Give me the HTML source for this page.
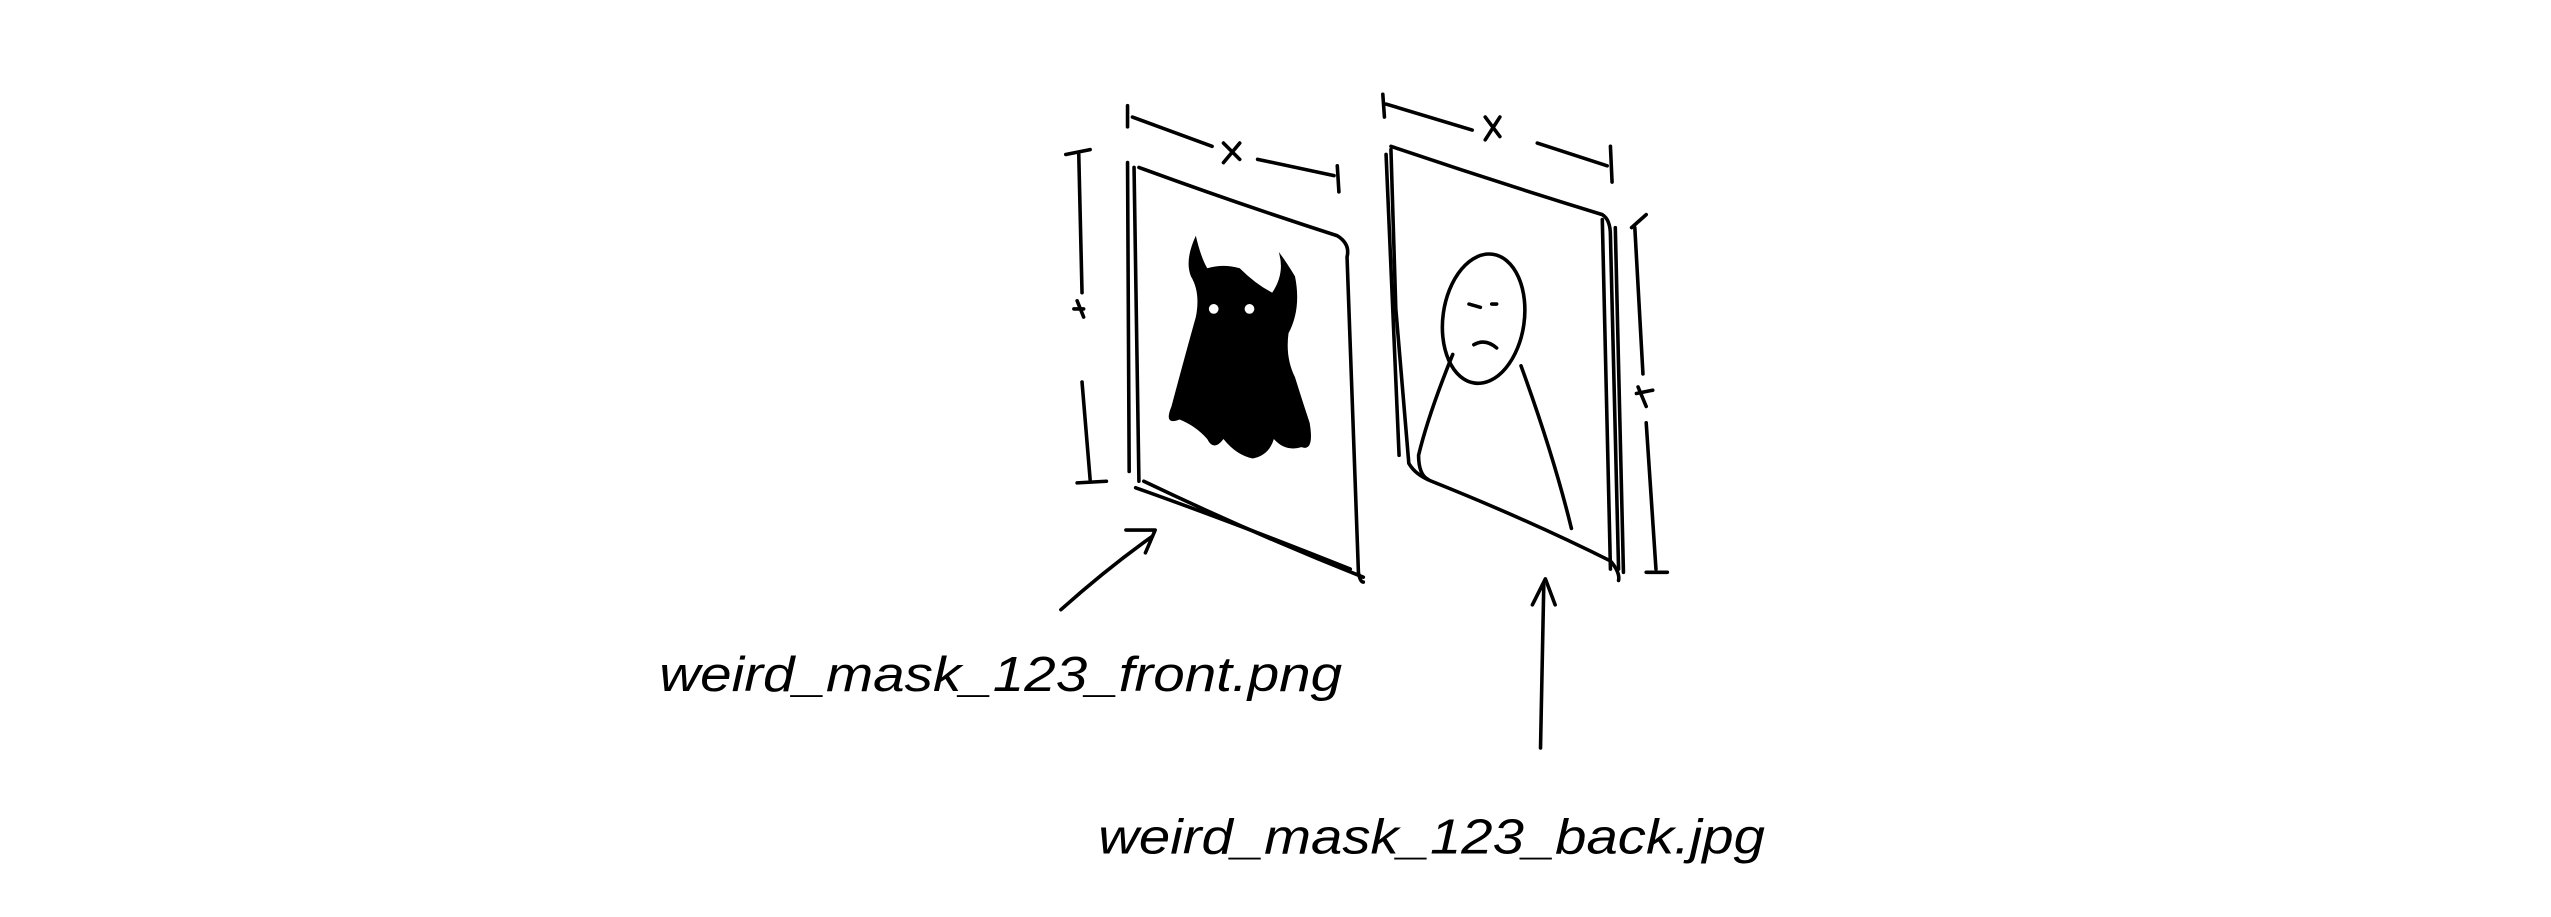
<!DOCTYPE html>
<html><head><meta charset="utf-8"><style>
html,body{margin:0;padding:0;background:#fff;width:2551px;height:917px;overflow:hidden}
svg{display:block}
</style></head><body>
<svg width="2551" height="917" viewBox="0 0 1568 564" xmlns="http://www.w3.org/2000/svg">
<g fill="none" stroke="#000" stroke-width="2.2" stroke-linecap="round" stroke-linejoin="round">
<g>
<path d="M697 103 L700 296"/><path d="M693 100 L694 290"/>
<path d="M700 103 Q760 125 822 145 Q830 150 828 158 L835 352 Q836 358 838 358"/>
<path d="M703 296 Q770 328 838 355"/>
<path d="M698 300 Q760 322 830 350"/>
</g>
<g>
<path d="M855 90 Q920 112 985 132 Q990 135 990 145 L995 350"/>
<path d="M855 92 L858 190 L866 285 Q870 292 880 296 Q940 320 990 345 Q996 352 995 357"/>
<path d="M852 95 L860 280"/>
<path d="M985 135 L990 350"/><path d="M993 140 L998 352"/>
</g>
<g>
<path d="M693 65 L693 78"/><path d="M696 72 L745 90"/><path d="M752 88 L762 98 M762 88 L752 100"/>
<path d="M773 98 L820 108"/><path d="M822 102 L823 118"/>
</g>
<g>
<path d="M655 95 L670 92"/><path d="M663 95 L665 180"/><path d="M662 185 L666 195 M660 190 L666 190"/>
<path d="M665 235 L670 295"/><path d="M662 297 L680 296"/>
</g>
<g>
<path d="M850 58 L851 72"/><path d="M852 64 L905 80"/><path d="M913 72 L922 84 M922 72 L913 86"/>
<path d="M945 88 L988 102"/><path d="M990 90 L991 112"/>
</g>
<g>
<path d="M1003 140 L1012 132"/><path d="M1005 140 L1010 230"/><path d="M1007 238 L1012 250 M1006 242 L1016 240"/>
<path d="M1012 260 L1018 350"/><path d="M1012 352 L1025 352"/>
</g>
<g>
<ellipse cx="912" cy="196" rx="25" ry="40" transform="rotate(8 912 196)"/>
<path d="M903 187 L910 189"/><path d="M917 187 L920 187"/><path d="M906 212 Q913 208 920 214"/>
<path d="M893 218 Q878 255 872 280 Q872 292 878 295"/>
<path d="M935 225 Q955 280 966 325"/>
</g>
<g>
<path d="M652 375 Q680 350 708 330"/><path d="M692 326 L710 326 L704 340"/>
</g>
<g>
<path d="M947 460 L949 360"/><path d="M942 372 L950 356 L956 372"/>
</g>
</g>
<g fill="#000">
<path d="M735 145 Q728 160 732 170 Q738 180 735 195 Q728 220 720 250 Q715 262 725 258 Q735 262 742 270 Q746 278 752 270 Q760 280 770 282 Q780 280 783 270 Q790 278 800 275 Q808 278 805 260 Q800 245 796 232 Q790 220 792 205 Q800 190 796 170 Q790 160 786 155 Q790 168 782 180 Q772 175 762 165 Q752 162 742 165 Q738 158 735 145 Z"/>
<circle cx="746" cy="190" r="3" fill="#fff"/><circle cx="768" cy="190" r="3" fill="#fff"/>
</g>
<g font-family="Liberation Sans, sans-serif" font-style="italic" font-size="30" fill="#000">
<text x="405" y="425" textLength="420" lengthAdjust="spacingAndGlyphs">weird_mask_123_front.png</text>
<text x="675" y="525" textLength="410" lengthAdjust="spacingAndGlyphs">weird_mask_123_back.jpg</text>
</g>
</svg>
</body></html>
